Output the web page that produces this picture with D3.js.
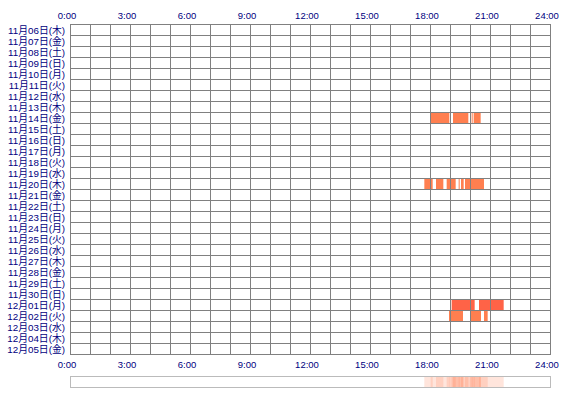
<!DOCTYPE html>
<html>
<head>
<meta charset="utf-8">
<script src="https://cdn.jsdelivr.net/npm/d3@7"></script>
<style>
html,body{margin:0;padding:0;background:#fff;}
svg text{font-family:"Liberation Sans","Noto Sans CJK JP",sans-serif;}
</style>
</head>
<body>
<svg id="chart" width="570" height="400"></svg>
<script>
const days = [
  "11月06日(木)","11月07日(金)","11月08日(土)","11月09日(日)","11月10日(月)",
  "11月11日(火)","11月12日(水)","11月13日(木)","11月14日(金)","11月15日(土)",
  "11月16日(日)","11月17日(月)","11月18日(火)","11月19日(水)","11月20日(木)",
  "11月21日(金)","11月22日(土)","11月23日(日)","11月24日(月)","11月25日(火)",
  "11月26日(水)","11月27日(木)","11月28日(金)","11月29日(土)","11月30日(日)",
  "12月01日(月)","12月02日(火)","12月03日(水)","12月04日(木)","12月05日(金)"
];
const hourTicks = [0,3,6,9,12,15,18,21,24];
const tickLabels = ["0:00","3:00","6:00","9:00","12:00","15:00","18:00","21:00","24:00"];
// online sessions: [day, start, end]
const sessions = [
  ["11月14日(金)","18:02","18:58"],
  ["11月14日(金)","19:09","19:55"],
  ["11月14日(金)","20:05","20:08"],
  ["11月14日(金)","20:11","20:32"],
  ["11月20日(木)","17:43","18:08"],
  ["11月20日(木)","18:18","18:40"],
  ["11月20日(木)","18:50","19:17"],
  ["11月20日(木)","19:26","19:29"],
  ["11月20日(木)","19:33","19:41"],
  ["11月20日(木)","19:45","20:42"],
  ["12月01日(月)","19:05","20:14"],
  ["12月01日(月)","20:27","21:41"],
  ["12月02日(火)","18:57","19:39"],
  ["12月02日(火)","20:00","20:33"],
  ["12月02日(火)","20:42","20:53"]
];
const strongDays = ["12月01日(月)"];

const toH = s => { const [h,m] = s.split(":").map(Number); return h + m/60; };

const svg = d3.select("#chart");
const x = d3.scaleLinear().domain([0,24]).range([70,550]);
const y = d3.scaleBand().domain(days).range([24,354]);
const navy = "#000080";
const gridColor = "#808080";

// bars
svg.append("g").selectAll("rect").data(sessions).join("rect")
  .attr("x", d => x(toH(d[1])))
  .attr("width", d => x(toH(d[2])) - x(toH(d[1])))
  .attr("y", d => y(d[0]))
  .attr("height", y.bandwidth())
  .attr("fill", d => strongDays.includes(d[0]) ? "#ff6347" : "#ff7f50");

// grid
const g = svg.append("g").attr("stroke", gridColor).attr("stroke-width",1).attr("shape-rendering","crispEdges");
g.selectAll("line.h").data(d3.range(days.length+1)).join("line")
  .attr("x1", x(0)).attr("x2", x(24)+1)
  .attr("y1", i => Math.round(24 + i*y.step()) + 0.5)
  .attr("y2", i => Math.round(24 + i*y.step()) + 0.5);
g.selectAll("line.v").data(d3.range(25)).join("line")
  .attr("x1", h => x(h)+0.5).attr("x2", h => x(h)+0.5)
  .attr("y1", 24).attr("y2", 355);

// day labels
svg.append("g").selectAll("text").data(days).join("text")
  .attr("x", 65).attr("y", d => y(d) + y.bandwidth()/2 + 4)
  .attr("text-anchor","end").attr("font-size",9.8).attr("fill",navy)
  .text(d => d);

// top & bottom hour labels
[18.5, 367.5].forEach(yy => {
  svg.append("g").selectAll("text").data(hourTicks).join("text")
    .attr("x", (h,i) => x(h) - 3).attr("y", yy)
    .attr("text-anchor","middle").attr("font-size",9.5).attr("fill",navy)
    .text((h,i) => tickLabels[i]);
});

// summary strip
const strip = svg.append("g");
strip.append("rect").attr("x", x(0)+0.5).attr("y", 376.5).attr("width", x(24)-x(0)).attr("height", 11)
  .attr("fill","#fff").attr("stroke","#bbbbbb");
strip.selectAll("rect.s").data(sessions).join("rect")
  .attr("x", d => x(toH(d[1])))
  .attr("width", d => x(toH(d[2])) - x(toH(d[1])))
  .attr("y", 377).attr("height", 10)
  .attr("fill","#ff7f50").attr("fill-opacity",0.2);
</script>
</body>
</html>
